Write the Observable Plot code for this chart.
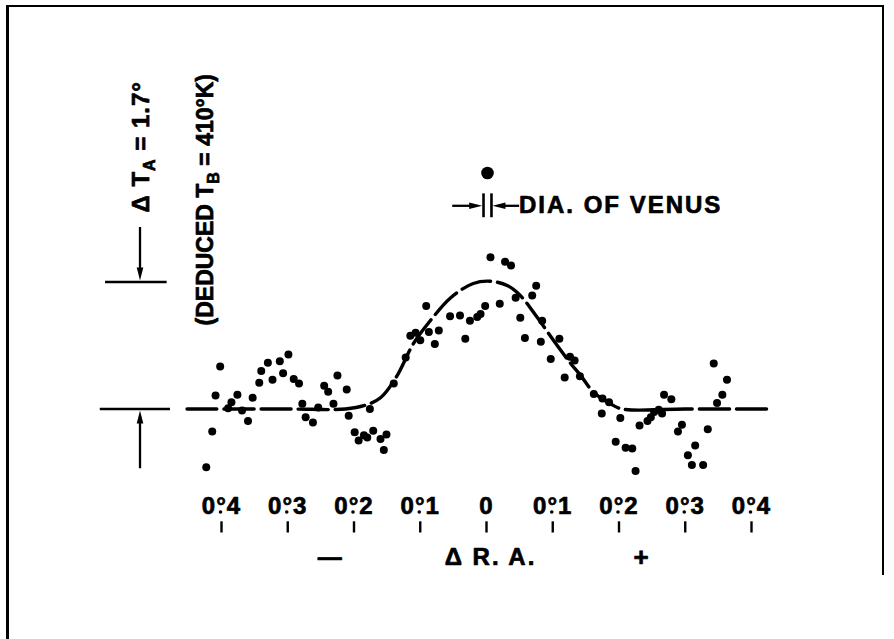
<!DOCTYPE html>
<html><head><meta charset="utf-8">
<script src="https://cdn.jsdelivr.net/npm/d3@7"></script>
<script src="https://cdn.jsdelivr.net/npm/@observablehq/plot@0.6"></script>
<style>
body{margin:0;background:#fff;}
#wrap{position:relative;width:894px;height:639px;overflow:hidden;background:#fff;}
.bl{position:absolute;left:6px;top:5px;width:3px;height:634px;background:#000;}
.bt{position:absolute;left:6px;top:5px;width:878px;height:2px;background:#000;}
.br{position:absolute;left:882px;top:5px;width:2px;height:570px;background:#000;}
</style></head><body><div id="wrap"><div class="bl"></div><div class="bt"></div><div class="br"></div></div>
<script>
// observed drift-scan points: ΔR.A. (degrees) and ΔT_A (K)
const obsX = [-0.423,-0.414,-0.409,-0.402,-0.390,-0.385,-0.376,-0.369,-0.360,-0.353,
  -0.343,-0.340,-0.330,-0.323,-0.312,-0.307,-0.299,-0.291,-0.283,-0.278,
  -0.273,-0.262,-0.254,-0.245,-0.239,-0.231,-0.225,-0.211,-0.208,-0.199,
  -0.193,-0.185,-0.180,-0.171,-0.160,-0.151,-0.155,-0.176,-0.140,-0.122,
  -0.115,-0.107,-0.100,-0.087,-0.078,-0.091,-0.072,-0.055,-0.040,-0.032,
  -0.025,-0.014,-0.009,-0.002,0.006,0.028,0.037,0.020,0.075,0.069,
  0.044,0.051,0.084,0.058,0.082,0.110,0.097,0.126,0.133,0.118,
  0.141,0.162,0.175,0.185,0.174,0.202,0.195,0.210,0.220,0.225,
  0.231,0.243,0.248,0.253,0.260,0.265,0.268,0.279,0.289,0.295,
  0.315,0.304,0.310,0.327,0.334,0.343,0.363,0.356,0.348];
const obsY = [-0.78,-0.30,0.18,0.57,0.01,0.09,0.19,-0.02,-0.16,0.15,
  0.35,0.51,0.62,0.39,0.64,0.48,0.73,0.40,0.34,0.07,
  -0.11,-0.18,0.02,0.31,0.23,0.07,0.45,0.26,-0.09,-0.31,
  -0.42,-0.35,-0.38,-0.29,-0.40,-0.34,-0.55,0.00,0.34,0.69,
  0.98,1.02,0.92,1.03,0.87,1.38,1.05,1.24,1.25,0.94,
  1.18,1.23,1.27,1.38,2.03,1.97,1.92,1.41,1.65,1.52,
  1.49,1.22,1.18,0.95,0.90,0.94,0.67,0.70,0.65,0.42,
  0.44,0.20,0.14,0.09,-0.06,-0.12,-0.44,-0.52,-0.53,-0.83,
  -0.22,-0.16,-0.11,-0.04,-0.01,-0.06,0.19,0.13,-0.30,-0.21,
  -0.49,-0.62,-0.75,-0.75,-0.27,0.61,0.39,0.19,0.08];
// dashed fitted (beam) curve
const curveX = [-0.452,-0.300,-0.213,-0.183,-0.160,-0.136,-0.110,-0.085,-0.054,-0.020,0.006,0.032,0.051,0.077,0.101,0.127,0.142,0.162,0.187,0.205,0.300,0.426];
const curveY = [0,0,0,0.05,0.15,0.43,0.88,1.18,1.49,1.68,1.71,1.65,1.52,1.22,0.92,0.61,0.45,0.22,0.07,0,0,0];
// axis ticks
const tickValues = [-0.4,-0.3,-0.2,-0.1,0,0.1,0.2,0.3,0.4];
const tickLabels = ["0°4","0°3","0°2","0°1","0","0°1","0°2","0°3","0°4"];

const obs = obsX.map((x,i)=>({x, y: obsY[i]}));
const curve = curveX.map((x,i)=>({x, y: curveY[i]}));
const ticks = tickValues.map((v,i)=>({v, label: tickLabels[i]}));

const head = {draw(ctx){ ctx.moveTo(0,0); ctx.lineTo(-3.3,13); ctx.lineTo(3.3,13); ctx.closePath(); }};
const ink = {fill: "black", stroke: "black", strokeWidth: 0.7};
const lab = (s, x, y, o={}) => Plot.text([s], {x: ()=>x, y: ()=>y, text: d=>d, fontSize: 24, ...ink, ...o});

const plot = Plot.plot({
  width: 894, height: 639,
  marginTop: 0, marginRight: 0, marginBottom: 0, marginLeft: 0,
  x: {domain: [-0.4, 0.4], range: [221, 751], axis: null},
  y: {domain: [0, 1.7], range: [408.5, 281.5], axis: null},
  style: {fontFamily: "'Liberation Sans', Arial, sans-serif", fontWeight: "bold", background: "transparent", overflow: "visible", letterSpacing: "1px"},
  marks: [
    Plot.line(curve, {x: "x", y: "y", stroke: "black", strokeWidth: 3.4, strokeDasharray: "30,7", curve: "catmull-rom"}),
    Plot.dot(obs, {x: "x", y: "y", r: 4, fill: "black", stroke: "none"}),
    // x ticks and labels
    Plot.text(ticks, {x: "v", y: () => -1.40, text: "label", fontSize: 24, lineAnchor: "bottom", ...ink}),
    Plot.dot(ticks.filter(d => d.v !== 0), {x: "v", y: () => -1.40, r: 1.8, fill: "black", stroke: "none", dx: -1, dy: -1.6}),
    Plot.ruleX(tickValues, {y1: -1.51, y2: -1.66, stroke: "black", strokeWidth: 2.4}),
    lab("—", -0.236, -1.99, {lineAnchor: "middle"}),
    lab("Δ R. A.", 0.006, -1.99, {lineAnchor: "middle"}),
    lab("+", 0.234, -1.99, {lineAnchor: "middle", fontSize: 26}),
    // ΔT_A scale bar
    Plot.ruleY([0], {x1: -0.583, x2: -0.477, stroke: "black", strokeWidth: 2.6}),
    Plot.ruleY([1.7], {x1: -0.575, x2: -0.482, stroke: "black", strokeWidth: 2.6}),
    Plot.ruleX([-0.523], {y1: -0.80, y2: -0.12, stroke: "black", strokeWidth: 2.3}),
    Plot.ruleX([-0.523], {y1: 2.43, y2: 1.85, stroke: "black", strokeWidth: 2.3}),
    Plot.dot([0], {x: () => -0.523, y: () => 0, symbol: head, fill: "black", stroke: "none", dy: 1.5}),
    Plot.dot([0], {x: () => -0.523, y: () => 1.7, symbol: head, fill: "black", stroke: "none", rotate: 180, dy: -1.5}),
    lab("ΔTA", -0.521, 2.63, {rotate: -90, textAnchor: "start", lineAnchor: "middle"}),
    lab("DEDTB", -0.424, 1.118, {rotate: -90, textAnchor: "start", lineAnchor: "middle", fontSize: 23}),
    // diameter of Venus
    Plot.dot([0], {x: () => 0.0015, y: () => 3.16, r: 6.3, fill: "black", stroke: "none"}),
    Plot.ruleX([-0.0045, 0.0075], {y1: 2.88, y2: 2.56, stroke: "black", strokeWidth: 2.6}),
    Plot.ruleY([2.72], {x1: -0.051, x2: -0.020, stroke: "black", strokeWidth: 2.3}),
    Plot.ruleY([2.72], {x1: 0.025, x2: 0.050, stroke: "black", strokeWidth: 2.3}),
    Plot.dot([0], {x: () => -0.0065, y: () => 2.72, symbol: head, fill: "black", stroke: "none", rotate: 90}),
    Plot.dot([0], {x: () => 0.009, y: () => 2.72, symbol: head, fill: "black", stroke: "none", rotate: -90}),
    lab("DIA. OF VENUS", 0.049, 2.72, {textAnchor: "start", lineAnchor: "middle"})
  ]
});
const sel = s => d3.select(plot).selectAll("text").filter(function(){ return this.textContent === s; });
sel("DIA. OF VENUS").style("letter-spacing", "2px");
sel("Δ R. A.").style("letter-spacing", "2px");
function sub(t, a, b, c, ls) {
  t.text("").style("letter-spacing", ls);
  t.append("tspan").text(a);
  t.append("tspan").attr("dy", 6).attr("font-size", 16).text(b);
  t.append("tspan").attr("dy", -6).text(c);
}
sub(sel("ΔTA"), "Δ T", "A", " = 1.7°", "1px");
sub(sel("DEDTB"), "(DEDUCED T", "B", " = 410°K)", "0px");
document.getElementById("wrap").prepend(plot);
</script>
</body></html>
